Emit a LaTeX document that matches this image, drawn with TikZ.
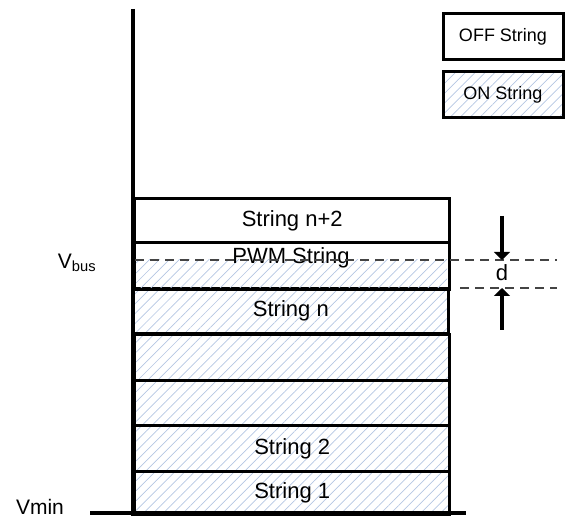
\documentclass[tikz,border=0pt]{standalone}
\usepackage{fontspec}
\setmainfont{Liberation Sans}
\usetikzlibrary{arrows.meta,patterns.meta,positioning}
\definecolor{hatchblue}{HTML}{B4C6E2}
\definecolor{dashgray}{HTML}{444444}

\tikzset{
  hatched/.style={pattern={Lines[angle=45,distance=7pt,line width=0.7pt]}, pattern color=hatchblue},
  offbox/.style={draw, line width=3.4pt, minimum width=315pt, anchor=north west, inner sep=0pt},
  onbox/.style={offbox, hatched},
  legendbox/.style={draw, line width=3pt, minimum width=120pt, minimum height=46pt, inner sep=0pt, font=\fontsize{18}{21}\selectfont},
  vlabel/.style={font=\fontsize{21}{24}\selectfont, inner sep=0pt},
  levelline/.style={dashgray, dash pattern=on 9pt off 6pt, line width=1.2pt},
  darrow/.style={line width=3.6pt, -{Triangle[width=16pt,length=8pt]}}
}

\begin{document}
\begin{tikzpicture}[x=1pt, y=-1pt, font=\fontsize{22}{26}\selectfont]
\useasboundingbox (0,0) rectangle (586,518);

% string stack
\node[offbox, minimum height=44pt] (strn2) at (133,197) {String n+2};
\node[onbox, minimum height=45pt] (strn) at (133,288) {String n};
\node[onbox, minimum height=46pt] (strn1) at (133,333) {};
\node[onbox, minimum height=45pt] (strm) at (133,379) {};
\node[onbox, minimum height=46pt] (str2) at (133,424) {String 2};
\node[onbox, minimum height=43pt] (str1) at (133,470) {String 1};
\fill[hatched] (134,260) rectangle (447,288);
\node[offbox, minimum height=47pt] (pwm) at (133,241) {};
\node (pwmtext) at (291,258) {PWM String};

% axes
\coordinate (top) at (133,9);
\coordinate (bot) at (133,516);
\draw[line width=3.8pt] (top) -- (bot);
\draw[line width=3.4pt] (90,513) -- (466,513);

% levels
\coordinate (vbusL) at (135,260);
\coordinate (vbusR) at (557,260);
\coordinate (nL) at (460,288);
\coordinate (nR) at (557,288);
\draw[levelline] (vbusL) -- (vbusR);
\draw[levelline] (nL) -- (nR);
\node[vlabel] (vbus) at (77,263) {V\textsubscript{bus}};
\node[vlabel] (vmin) at (40,507) {Vmin};

% d marker
\coordinate (atop) at (502,216);
\coordinate (abot) at (502,330);
\draw[darrow] (atop) -- (502,260);
\draw[darrow] (abot) -- (502,288);
\node (d) at (502,273) {d};

% legend
\node[legendbox] (off) at (503,36.5) {OFF String};
\node[legendbox, hatched] (on) at (503,95) {ON String};
\end{tikzpicture}
\end{document}
